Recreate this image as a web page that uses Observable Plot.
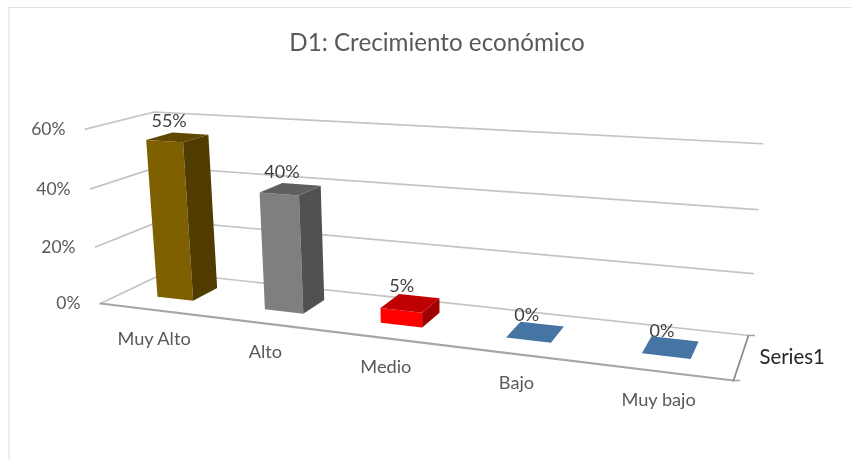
<!DOCTYPE html>
<html>
<head>
<meta charset="utf-8">
<script src="https://cdn.jsdelivr.net/npm/d3@7"></script>
<script src="https://cdn.jsdelivr.net/npm/@observablehq/plot@0.6"></script>
<style>
html,body{margin:0;padding:0;background:#fff;}
svg{display:block;}
</style>
</head>
<body>
<div id="chart"></div>
<script>
const title = "D1: Crecimiento económico";
const seriesName = "Series1";
const categories = ["Muy Alto", "Alto", "Medio", "Bajo", "Muy bajo"];
const values = [55, 40, 5, 0, 0];
const yTicks = [0, 20, 40, 60];
const frontColors = ["#7f6000", "#7f7f7f", "#ff0000", "#4674a3", "#4674a3"];
const topColors = ["#604800", "#5f5f5f", "#bf0000", "#4674a3", "#4674a3"];
const sideColors = ["#503c00", "#515151", "#9f0000", "#4674a3", "#4674a3"];

// Perspective camera of the 3D chart box: u = category position, v = percent, w = depth.
const W = 851, H = 460, vMax = 60;
const floorQuad = [[100, 303], [733, 380], [748, 335], [165, 272]];
const vanish = [450, 4360];
const camera = (() => {
  const [[x0, y0], [x1, y1], [x2, y2], [x3, y3]] = floorQuad;
  const dx1 = x1 - x2, dx2 = x3 - x2, sx = x0 - x1 + x2 - x3;
  const dy1 = y1 - y2, dy2 = y3 - y2, sy = y0 - y1 + y2 - y3;
  const den = dx1 * dy2 - dx2 * dy1;
  const g = (sx * dy2 - dx2 * sy) / den, h = (dx1 * sy - sx * dy1) / den;
  return {a: x1 - x0 + g * x1, b: x3 - x0 + h * x3, c: x0,
          d: y1 - y0 + g * y1, e: y3 - y0 + h * y3, f: y0, g, h, k: -0.0412 / vMax};
})();
function project(u, v, w) {
  const s = u / categories.length, c = camera;
  const q = c.g * s + c.h * w + 1 + c.k * v;
  return {
    x: (c.a * s + c.b * w + c.c + c.k * v * vanish[0]) / q,
    y: (c.d * s + c.e * w + c.f + c.k * v * vanish[1]) / q
  };
}

// Bar footprint in category/depth units
const barHalf = 0.17, barShift = 0.005, depth0 = 0.33, depth1 = 0.73;

const faces = [];
categories.forEach((cat, i) => {
  const v = values[i], u0 = i + 0.5 + barShift - barHalf, u1 = i + 0.5 + barShift + barHalf;
  const add = (name, color, corners) => corners.forEach(([u, val, w]) =>
    faces.push({id: cat + name, color, ...project(u, val, w)}));
  if (v > 0) {
    add("front", frontColors[i], [[u0, 0, depth0], [u1, 0, depth0], [u1, v, depth0], [u0, v, depth0]]);
    add("side", sideColors[i], [[u1, 0, depth0], [u1, 0, depth1], [u1, v, depth1], [u1, v, depth0]]);
  }
  add("top", topColors[i], [[u0, v, depth0], [u1, v, depth0], [u1, v, depth1], [u0, v, depth1]]);
});

const n = categories.length;
const grid = yTicks.flatMap(t => [
  {t, ...project(0, t, 0)}, {t, ...project(0, t, 1)}, {t, ...project(n, t, 1)}
]);
const floorEdge = [project(0, 0, 0), project(n, 0, 0)];
const rightEdge = [project(n, 0, 0), project(n, 0, 1)];
const edgeTicks = rightEdge.flatMap((p, i) => [{i, x: p.x, y: p.y}, {i, x: p.x + 6, y: p.y}]);

const tickLabels = yTicks.map(t => ({label: t + "%", ...project(0, t, 0)}));
const catLabels = categories.map((c, i) => ({label: c, ...project(i + 0.5, 0, 0)}));
const dataLabels = values.map((v, i) => ({label: v + "%", ...project(i + 0.5, v, (depth0 + depth1) / 2)}));
const seriesLabel = [{label: seriesName, ...project(n, 0, 0.5)}];

const font = "Lato, Carlito, Calibri, sans-serif";

const chart = Plot.plot({
  width: W, height: H,
  marginTop: 0, marginRight: 0, marginBottom: 0, marginLeft: 0,
  x: {domain: [0, W], range: [0, W], axis: null},
  y: {domain: [0, H], range: [0, H], axis: null},
  color: {type: "identity"},
  style: {fontFamily: font, background: "#fff", filter: "blur(0.45px)"},
  marks: [
    Plot.ruleX([8.5], {y1: 7, y2: H, stroke: "#e2e2e2", strokeWidth: 1.2}),
    Plot.ruleY([7], {x1: 8, x2: W, stroke: "#e2e2e2", strokeWidth: 1.2}),
    Plot.text([title], {text: d => d, frameAnchor: "top", dy: 33, dx: 11, fontSize: 24.2, fill: "#595959"}),
    Plot.line(grid, {x: "x", y: "y", z: "t", stroke: "#c4c4c4", strokeWidth: 1.7}),
    Plot.line(floorEdge, {x: "x", y: "y", stroke: "#a6a6a6", strokeWidth: 2.2}),
    Plot.line(rightEdge, {x: "x", y: "y", stroke: "#8c8c8c", strokeWidth: 1.8}),
    Plot.line(edgeTicks, {x: "x", y: "y", z: "i", stroke: "#a0a0a0", strokeWidth: 1.3}),
    Plot.line(faces, {x: "x", y: "y", z: "id", fill: "color", stroke: null}),
    Plot.text(tickLabels, {x: "x", y: "y", text: "label", textAnchor: "end", dx: -20, dy: 0, fontSize: 17.5, fill: "#595959"}),
    Plot.text(catLabels, {x: "x", y: "y", text: "label", dx: 1, dy: 29, fontSize: 18.2, fill: "#595959"}),
    Plot.text(dataLabels, {x: "x", y: "y", text: "label", dx: -8, dy: -16.5, fontSize: 18, fill: "#404040"}),
    Plot.text(seriesLabel, {x: "x", y: "y", text: "label", textAnchor: "start", dx: 18, dy: 1, fontSize: 20.4, fill: "#262626"})
  ]
});
document.getElementById("chart").appendChild(chart);
</script>
</body>
</html>
